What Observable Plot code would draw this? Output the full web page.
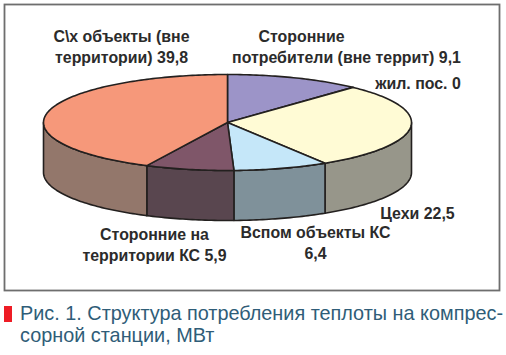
<!DOCTYPE html>
<html lang="ru">
<head>
<meta charset="utf-8">
<script src="https://cdn.jsdelivr.net/npm/d3@7"></script>
<script src="https://cdn.jsdelivr.net/npm/@observablehq/plot@0.6"></script>
<style>
html,body{margin:0;padding:0;background:#fff;width:506px;height:355px;overflow:hidden}
svg{display:block}
#cap{position:relative;margin:7px 0 0 20px;width:486px;font:19.85px/22px "Liberation Sans",sans-serif;color:#2f5d78;white-space:nowrap}
#cap:before{content:"";position:absolute;left:-16px;top:4px;width:8px;height:16px;background:#ee1c25}
</style>
</head>
<body>
<div id="chart"></div>
<div id="cap">Рис. 1. Структура потребления теплоты на компрес-<br>сорной станции, МВт</div>
<script>
// Slices clockwise from 12 o'clock; drawn sweep in degrees
const sliceNames = ["Сторонние потребители (вне террит)", "Цехи", "Вспом объекты КС", "Сторонние на территории КС", "С\\х объекты (вне территории)"];
const labelledValues = [9.1, 22.5, 6.4, 5.9, 39.8];
const sweepDegrees = [43, 105, 30, 28, 154];
const topColors = ["#9c94c8", "#fffbd5", "#c5e7f9", "#7f5669", "#f6987a"];
const sideColors = ["#6f6a8c", "#97968a", "#7f919a", "#59464f", "#93776b"];

const labelLines = ["С\\х объекты (вне", "территории) 39,8", "Сторонние", "потребители (вне террит) 9,1", "жил. пос. 0", "Цехи 22,5", "Вспом объекты КС", "6,4", "Сторонние на", "территории КС 5,9"];
const labelX = [121, 121, 301, 346, 417.5, 417, 315, 315, 154, 154];
const labelY = [41.5, 62.5, 41.5, 62.5, 88.5, 218.5, 237.5, 258.5, 239.5, 260.5];

// Pie layout
const W = 506, H = 295, cx = 227, cy = 122, rx = 184, ry = 48, depth = 50;
const rad = d => d * Math.PI / 180;
const px = a => cx + rx * Math.sin(rad(a));
const py = (a, off = 0) => cy - ry * Math.cos(rad(a)) + off;

const starts = d3.cumsum([0, ...sweepDegrees]);
const tops = [], sides = [];
sweepDegrees.forEach((sw, i) => {
  const a0 = starts[i], a1 = starts[i] + sw;
  const arc = [];
  for (let a = a0; a < a1; a += 1) arc.push(a);
  arc.push(a1);
  [{x: cx, y: cy}, ...arc.map(a => ({x: px(a), y: py(a)})), {x: cx, y: cy}]
    .forEach(p => tops.push({...p, id: sliceNames[i], fill: topColors[i]}));
  const b0 = Math.max(a0, 90), b1 = Math.min(a1, 270);
  if (b1 > b0) {
    const front = [];
    for (let a = b0; a < b1; a += 1) front.push(a);
    front.push(b1);
    const ring = [...front.map(a => ({x: px(a), y: py(a)})), ...front.slice().reverse().map(a => ({x: px(a), y: py(a, depth)}))];
    [...ring, ring[0]].forEach(p => sides.push({...p, id: sliceNames[i], fill: sideColors[i]}));
  }
});
const labels = labelLines.map((t, i) => ({t, x: labelX[i], y: labelY[i]}));

const piece = data => Plot.line(data, {x: "x", y: "y", z: "id", fill: "fill", stroke: "#23201f", strokeWidth: 1.6, strokeLinejoin: "round", curve: "linear"});

const chart = Plot.plot({
  width: W, height: H, margin: 0,
  style: {background: "#fff", fontFamily: "Liberation Sans"},
  x: {domain: [0, W], range: [0, W], axis: null},
  y: {domain: [0, H], range: [0, H], axis: null},
  marks: [
    Plot.frame({stroke: "#6e6e6e", strokeWidth: 1.8, insetLeft: 4, insetTop: 4, insetRight: 7, insetBottom: 5}),
    piece(sides),
    piece(tops),
    Plot.text(labels, {x: "x", y: "y", text: "t", textAnchor: "middle", lineAnchor: "bottom", fontSize: 15.9, fontWeight: "bold", fill: "#2b2b2b"})
  ]
});
document.getElementById("chart").append(chart);
</script>
</body>
</html>
